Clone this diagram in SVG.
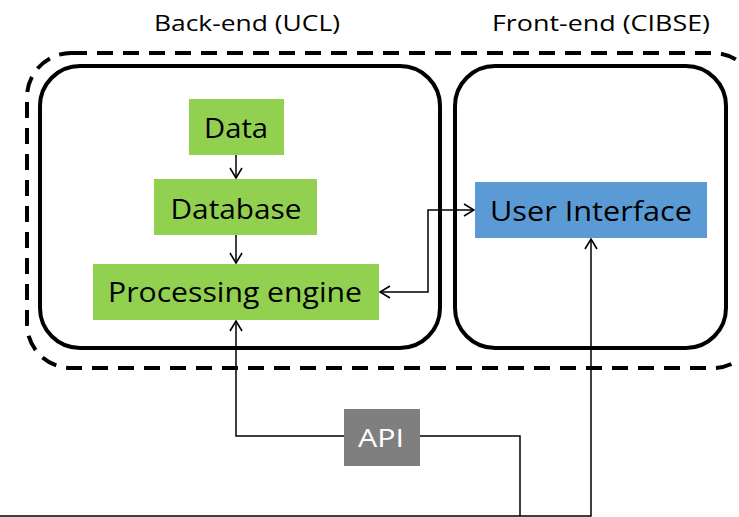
<svg xmlns="http://www.w3.org/2000/svg" width="739" height="517" viewBox="0 0 739 517">
  <style>
    .lbl { font-family: "Open Sans", "Noto Sans", sans-serif; fill: #000; text-anchor: middle; }
    .box-green { fill: #92d050; }
    .box-blue { fill: #5b9bd5; }
    .box-grey { fill: #7f7f7f; }
    .frame { fill: none; stroke: #000; stroke-width: 4; }
    .wire { fill: none; stroke: #000; stroke-width: 1.5; }
  </style>
  <defs>
    <marker id="arrow" viewBox="0 0 12 14" refX="11" refY="7" markerWidth="12" markerHeight="14" markerUnits="userSpaceOnUse" orient="auto-start-reverse">
      <path d="M1,1 L11,7 L1,13" fill="none" stroke="#000" stroke-width="1.6"/>
    </marker>
  </defs>
  <rect width="739" height="517" fill="#fff"/>

  <!-- titles -->
  <text class="lbl" x="247" y="31" font-size="21" textLength="186" lengthAdjust="spacingAndGlyphs">Back-end (UCL)</text>
  <text class="lbl" x="601" y="31" font-size="21" textLength="218" lengthAdjust="spacingAndGlyphs">Front-end (CIBSE)</text>

  <!-- system boundary and the two sides -->
  <g id="system">
    <rect class="frame" x="27" y="53" width="730" height="315" rx="44" stroke-dasharray="16 10"/>
  </g>
  <g id="backend">
    <rect class="frame" x="40" y="66" width="400" height="282" rx="40"/>
  </g>
  <g id="frontend">
    <rect class="frame" x="455" y="66" width="271" height="282" rx="40"/>
  </g>

  <!-- connectors -->
  <g id="connectors">
    <path class="wire" d="M236,155 V178" marker-end="url(#arrow)"/>
    <path class="wire" d="M236,235 V263" marker-end="url(#arrow)"/>
    <path class="wire" d="M380,292 H428 V210 H474" marker-start="url(#arrow)" marker-end="url(#arrow)"/>
    <path class="wire" d="M236,321 V436 H344" marker-start="url(#arrow)"/>
    <path class="wire" d="M420,436 H520 V516"/>
    <path class="wire" d="M0,516 H591 V239" marker-end="url(#arrow)"/>
  </g>

  <!-- nodes -->
  <g id="data">
    <rect class="box-green" x="189" y="99" width="95" height="56"/>
    <text class="lbl" x="236" y="138" font-size="28" textLength="64" lengthAdjust="spacingAndGlyphs">Data</text>
  </g>
  <g id="database">
    <rect class="box-green" x="154" y="179" width="163" height="56"/>
    <text class="lbl" x="236" y="219" font-size="28" textLength="131" lengthAdjust="spacingAndGlyphs">Database</text>
  </g>
  <g id="processing-engine">
    <rect class="box-green" x="93" y="264" width="286" height="56"/>
    <text class="lbl" x="235" y="302" font-size="28" textLength="254" lengthAdjust="spacingAndGlyphs">Processing engine</text>
  </g>
  <g id="user-interface">
    <rect class="box-blue" x="475" y="182" width="232" height="56"/>
    <text class="lbl" x="591" y="221" font-size="28" textLength="202" lengthAdjust="spacingAndGlyphs">User Interface</text>
  </g>
  <g id="api">
    <rect class="box-grey" x="344" y="409" width="76" height="57"/>
    <text class="lbl" x="381" y="447" font-size="26" fill="#fff" style="fill:#fff" textLength="46" lengthAdjust="spacingAndGlyphs">API</text>
  </g>
</svg>
